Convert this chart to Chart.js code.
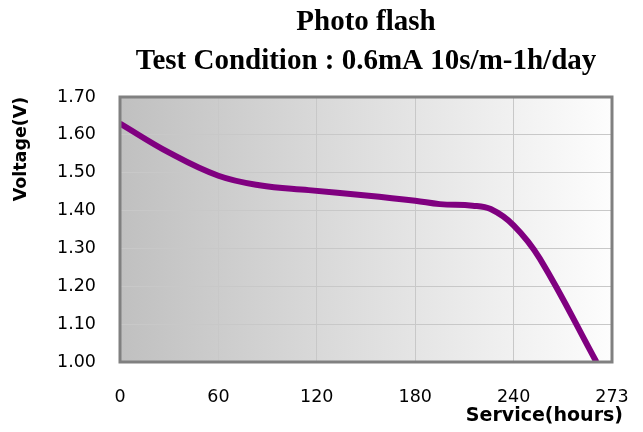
<!DOCTYPE html>
<html lang="en">
<head>
  <meta charset="UTF-8">
  <title>Photo flash</title>
  <script src="https://cdn.jsdelivr.net/npm/chart.js"></script>
  <style>
    body { margin: 0; padding: 0; background: #fff; }
  </style>
</head>
<body>
  <canvas id="chart" width="643" height="432"></canvas>

  <script>
    // Discharge curve
    const hours   = [0, 30, 60, 85, 115, 150, 180, 195, 215, 226, 240, 256, 290.5];
    const voltage = [1.630, 1.553, 1.492, 1.467, 1.454, 1.440, 1.426, 1.417, 1.413, 1.404, 1.361, 1.273, 1.000];

    // Axis tick labels (last x tick printed as 273 in the original)
    const xTicks = ['0', '60', '120', '180', '240', '273'];
    const yTicks = ['1.00', '1.10', '1.20', '1.30', '1.40', '1.50', '1.60', '1.70'];

    const titleLines = ['Photo flash', 'Test Condition : 0.6mA 10s/m-1h/day'];
    const yTitle = 'Voltage(V)';
    const xTitle = 'Service(hours)';

    // Grey-to-white background inside the plot area
    const bgPlugin = {
      id: 'bg',
      beforeDraw(chart) {
        const { ctx, chartArea: a } = chart;
        const g = ctx.createLinearGradient(a.left, 0, a.right, 0);
        g.addColorStop(0, '#c0c0c0');
        g.addColorStop(1, '#fdfdfd');
        ctx.save();
        ctx.fillStyle = g;
        ctx.fillRect(a.left, a.top, a.right - a.left, a.bottom - a.top);
        ctx.restore();
      }
    };

    // Frame and texts
    const textPlugin = {
      id: 'texts',
      afterDraw(chart) {
        const { ctx, chartArea: a } = chart;
        ctx.save();
        ctx.strokeStyle = '#808080';
        ctx.lineWidth = 3;
        ctx.strokeRect(a.left, a.top, a.right - a.left, a.bottom - a.top);

        ctx.fillStyle = '#000';
        ctx.textAlign = 'center';
        ctx.textBaseline = 'alphabetic';
        ctx.font = 'bold 29px "Liberation Serif", serif';
        const cx = (a.left + a.right) / 2;
        ctx.fillText(titleLines[0], cx, 30);
        ctx.fillText(titleLines[1], cx, 69);

        ctx.font = 'bold 19px "DejaVu Sans", sans-serif';
        ctx.textAlign = 'right';
        ctx.textBaseline = 'middle';
        ctx.fillText(xTitle, 623, 416);

        ctx.translate(21, 149);
        ctx.rotate(-Math.PI / 2);
        ctx.textAlign = 'center';
        ctx.font = 'bold 17.5px "DejaVu Sans", sans-serif';
        ctx.fillText(yTitle, 0, 0);
        ctx.restore();
      }
    };

    const ctx = document.getElementById('chart').getContext('2d');
    new Chart(ctx, {
      type: 'line',
      data: {
        datasets: [{
          data: hours.map((h, i) => ({ x: h, y: voltage[i] })),
          borderColor: '#800080',
          borderWidth: 6,
          pointRadius: 0,
          fill: false,
          tension: 0.4
        }]
      },
      options: {
        responsive: false,
        animation: false,
        layout: { padding: { top: 97, right: 31, left: 0, bottom: 0 } },
        plugins: {
          legend: { display: false },
          title: { display: false },
          tooltip: { enabled: false }
        },
        scales: {
          x: {
            type: 'linear',
            min: 0,
            max: 300,
            afterFit: s => { s.height = 70; s.paddingLeft = 0; s.paddingRight = 0; },
            border: { display: false },
            grid: { color: '#c8c8c8', lineWidth: 1, drawTicks: false },
            ticks: {
              stepSize: 60,
              padding: 25,
              color: '#000',
              font: { family: '"DejaVu Sans", sans-serif', size: 17.5 },
              maxRotation: 0,
              callback: (v, i) => xTicks[i]
            }
          },
          y: {
            min: 1.0,
            max: 1.7,
            afterFit: s => { s.width = 120; s.paddingTop = 0; s.paddingBottom = 0; },
            border: { display: false },
            grid: { color: '#c8c8c8', lineWidth: 1, drawTicks: false },
            ticks: {
              stepSize: 0.1,
              padding: 24,
              color: '#000',
              font: { family: '"DejaVu Sans", sans-serif', size: 17.5 },
              callback: (v, i) => yTicks[i]
            }
          }
        }
      },
      plugins: [bgPlugin, textPlugin]
    });
  </script>
</body>
</html>
